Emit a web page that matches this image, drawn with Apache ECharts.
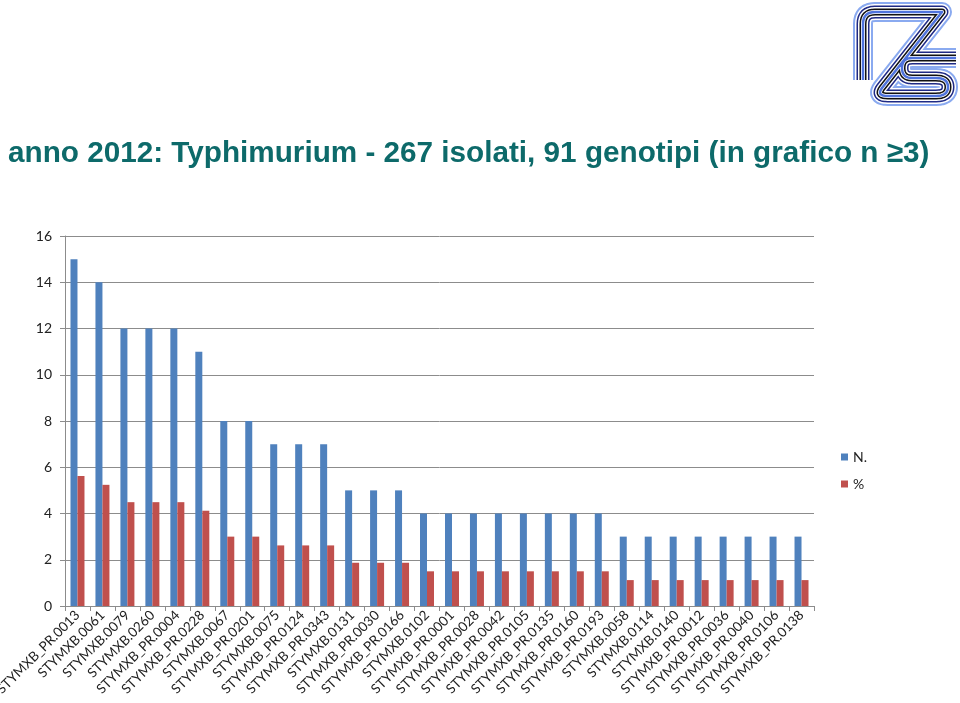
<!DOCTYPE html>
<html><head><meta charset="utf-8">
<script src="https://cdn.jsdelivr.net/npm/echarts@6/dist/echarts.min.js"></script>
<style>html,body{margin:0;padding:0;background:#fff}#c{width:960px;height:703px}</style>
</head><body><div id="c"></div>
<script>
const categories = ["STYMXB_PR.0013","STYMXB.0061","STYMXB.0079","STYMXB.0260","STYMXB_PR.0004","STYMXB_PR.0228","STYMXB.0067","STYMXB_PR.0201","STYMXB.0075","STYMXB_PR.0124","STYMXB_PR.0343","STYMXB.0131","STYMXB_PR.0030","STYMXB_PR.0166","STYMXB.0102","STYMXB_PR.0001","STYMXB_PR.0028","STYMXB_PR.0042","STYMXB_PR.0105","STYMXB_PR.0135","STYMXB_PR.0160","STYMXB_PR.0193","STYMXB.0058","STYMXB.0114","STYMXB.0140","STYMXB_PR.0012","STYMXB_PR.0036","STYMXB_PR.0040","STYMXB_PR.0106","STYMXB_PR.0138"];
const countN = [15,14,12,12,12,11,8,8,7,7,7,5,5,5,4,4,4,4,4,4,4,4,3,3,3,3,3,3,3,3];
const percent = [5.62,5.24,4.49,4.49,4.49,4.12,3.00,3.00,2.62,2.62,2.62,1.87,1.87,1.87,1.50,1.50,1.50,1.50,1.50,1.50,1.50,1.50,1.12,1.12,1.12,1.12,1.12,1.12,1.12,1.12];
const seriesNames = ["N.","%"];
const yTicks = {min:0,max:16,interval:2};
const titleText = "anno 2012: Typhimurium - 267 isolati, 91 genotipi (in grafico n \u22653)";

const chart = echarts.init(document.getElementById('c'), null, {renderer:'canvas'});

// logo helper: build polyline points from segments (L = line to, Q = quadratic curve)
function buildPts(start, segs){
  const pts=[start.slice()]; let cur=start.slice();
  segs.forEach(s=>{
    if(s[0]==='L'){cur=[s[1],s[2]];pts.push(cur);}
    else { const c=[s[1],s[2]], e=[s[3],s[4]];
      for(let t=1;t<=8;t++){const u=t/8;pts.push([(1-u)*(1-u)*cur[0]+2*(1-u)*u*c[0]+u*u*e[0],(1-u)*(1-u)*cur[1]+2*(1-u)*u*c[1]+u*u*e[1]]);} cur=e; }
  });
  return pts;
}
function stripes(pts){
  const layers = [[20,'#8aaaf0'],[16,'#ffffff'],[13,'#1f2a86'],[10,'#ffffff'],[7,'#111111'],[4,'#ffffff'],[2.5,'#4f73dc']];
  return layers.map((l,i)=>({type:'polyline',shape:{points:pts},style:{fill:null,stroke:l[1],lineWidth:l[0],lineJoin:'round'},z:10+i,silent:true}));
}
const logoI = buildPts([863,80],[['L',863,24],['Q',863,12,875,12],['L',942,12],['L',882,88],['Q',876,96,888,96],['L',936,96],['Q',948,96,948,87],['Q',948,78,936,78],['L',912,78],['Q',902,78,902,68],['Q',902,58,912,58],['L',956,58]]);

chart.setOption({
  animation:false,
  title:{text:titleText,left:8,top:139,padding:0,textStyle:{fontFamily:'Liberation Sans',fontWeight:'bold',fontSize:29.7,color:'#0d6a6a'}},
  legend:{orient:'vertical',left:836,top:445,itemWidth:7,itemHeight:7,itemGap:13,icon:'rect',data:seriesNames,
    textStyle:{fontFamily:'Lato',fontSize:14,color:'#222'}},
  grid:{left:65,right:146,top:236,bottom:97,containLabel:false,outerBoundsMode:'none'},
  xAxis:{type:'category',data:categories,
    axisLine:{lineStyle:{color:'#8c8c8c'}},
    axisTick:{show:true,length:5,alignWithLabel:false,lineStyle:{color:'#8c8c8c'}},
    axisLabel:{rotate:45,interval:0,margin:7,fontFamily:'Lato',fontSize:13.5,color:'#222'}},
  yAxis:{type:'value',min:yTicks.min,max:yTicks.max,interval:yTicks.interval,
    axisLine:{show:true,lineStyle:{color:'#8c8c8c'}},
    axisTick:{show:true,length:5,lineStyle:{color:'#8c8c8c'}},
    splitLine:{lineStyle:{color:'#8c8c8c'}},
    axisLabel:{margin:13,fontFamily:'Lato',fontSize:14,color:'#222'}},
  series:[
    {name:seriesNames[0],type:'bar',data:countN,barWidth:7,barGap:'0%',itemStyle:{color:'#4f81bd'}},
    {name:seriesNames[1],type:'bar',data:percent,barWidth:7,barGap:'0%',itemStyle:{color:'#c0504d'}}
  ],
  graphic:stripes(logoI)
});
</script></body></html>
